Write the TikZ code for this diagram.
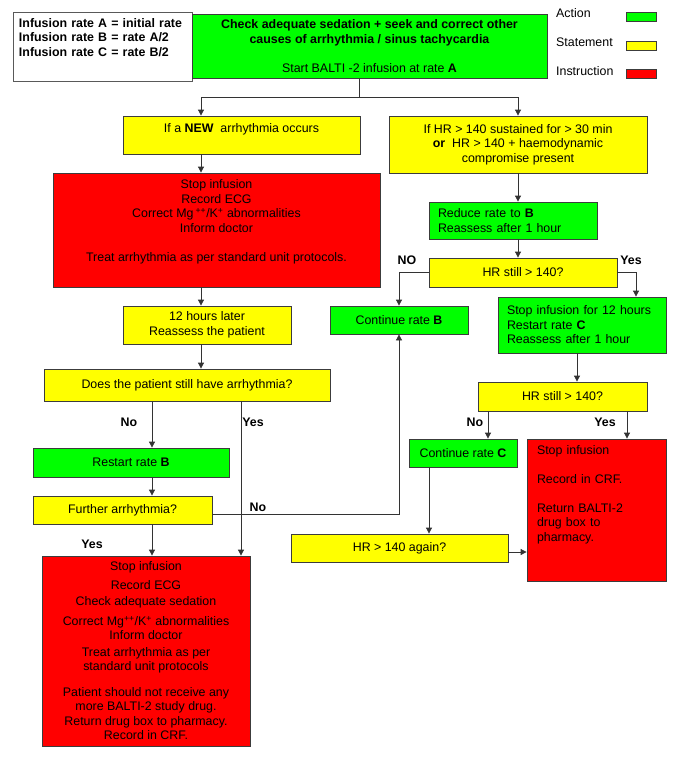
\documentclass[tikz,border=0pt]{standalone}
\usepackage{fontspec}
\setmainfont{Liberation Sans}
\usetikzlibrary{arrows.meta}
\definecolor{actgreen}{RGB}{0,255,0}
\definecolor{stateyellow}{RGB}{255,255,0}
\definecolor{instred}{RGB}{255,0,0}
\definecolor{edgegray}{RGB}{60,60,60}

\begin{document}
\begin{tikzpicture}[x=1pt,y=-1pt,
    font=\fontsize{12.4}{14.5}\selectfont,
    wh/.style 2 args={minimum width=#1, minimum height=#2},
    box/.style={draw=edgegray, line width=0.8pt, inner sep=0pt, align=center},
    actbox/.style={box, fill=actgreen},
    statebox/.style={box, fill=stateyellow},
    instbox/.style={box, fill=instred},
    keylbl/.style={anchor=west, inner sep=0pt},
    lbl/.style={font=\fontsize{12.4}{14.5}\selectfont\bfseries, inner sep=1pt},
    line/.style={draw=black!80, line width=0.8pt},
    arr/.style={line, -{Triangle[length=6pt,width=6pt]}}]
    \useasboundingbox (0,0) rectangle (685,766);

    % Rate key and start box
    \node[box, fill=white, draw=black!65, wh={179}{69}, text width=167, align=left,
      font=\fontsize{12.4}{14.5}\selectfont\bfseries] (key) at (102.5,46.5)
      {Infusion rate A = initial rate\\ Infusion rate B = rate A/2\\ Infusion rate C = rate B/2\\ \strut};
    \node[actbox, wh={355}{64}] (top) at (369.5,46)
      {\textbf{Check adequate sedation + seek and correct other}\\
       \textbf{causes of arrhythmia / sinus tachycardia}\\ \strut\\
       Start BALTI -2 infusion at rate \textbf{A}};

    % Legend
    \node[keylbl] (actlbl) at (556,13) {Action};
    \node[keylbl] (statelbl) at (556,42) {Statement};
    \node[keylbl] (instlbl) at (556,71) {Instruction};
    \node[actbox, wh={30}{9}] (actkey) at (641,16.5) {};
    \node[statebox, wh={30}{9}] (statekey) at (641,45.5) {};
    \node[instbox, wh={30}{9}] (instkey) at (641,73.5) {};

    % Left branch: new arrhythmia
    \node[statebox, wh={237}{38}] (new) at (241.5,135)
      {If a \textbf{NEW}\ \ arrhythmia occurs\\[-5pt] \strut};
    \node[instbox, wh={327}{114}] (stop1) at (216.5,230)
      {Stop infusion\\ Record ECG\\
       Correct Mg\,\textsuperscript{++}/K\textsuperscript{+} abnormalities\\
       Inform doctor\\ \strut\\
       Treat arrhythmia as per standard unit protocols.\\ \strut};
    \node[statebox, wh={168}{38}] (later) at (207,325)
      {12 hours later\\ Reassess the patient};
    \node[statebox, wh={286}{32}] (ask) at (187,385)
      {Does the patient still have arrhythmia?};
    \node[actbox, wh={196}{29}] (restart) at (131,462.5) {Restart rate \textbf{B}};
    \node[statebox, wh={179}{28}] (further) at (122.5,510) {Further arrhythmia?};
    \node[instbox, wh={208}{190}] (stop2) at (146,651)
      {Stop infusion\\[4pt] Record ECG\\[2pt] Check adequate sedation\\[5pt]
       Correct Mg\textsuperscript{++}/K\textsuperscript{+} abnormalities\\
       Inform doctor\\[2pt]
       Treat arrhythmia as per\\ standard unit protocols\\[11pt]
       Patient should not receive any\\ more BALTI-2 study drug.\\
       Return drug box to pharmacy.\\ Record in CRF.};

    % Right branch: sustained HR > 140
    \node[statebox, wh={258}{57}] (hr) at (518,144.5)
      {If HR > 140 sustained for > 30 min\\
       \textbf{or}\ \ HR > 140 + haemodynamic\\ compromise present};
    \node[actbox, wh={168}{37}, text width=150, align=left] (reduce) at (513,220.5)
      {Reduce rate to \textbf{B}\\ Reassess after 1 hour};
    \node[statebox, wh={188}{29}] (still1) at (523,272.5) {HR still > 140?};
    \node[actbox, wh={138}{28}] (contB) at (399,320) {Continue rate \textbf{B}};
    \node[actbox, wh={168}{56}, text width=150, align=left] (stop12) at (582,325)
      {Stop infusion for 12 hours\\ Restart rate \textbf{C}\\ Reassess after 1 hour};
    \node[statebox, wh={169}{29}] (still2) at (562.5,396.5) {HR still > 140?};
    \node[actbox, wh={108}{28}] (contC) at (463,453) {Continue rate \textbf{C}};
    \node[instbox, wh={139}{142}, text width=119, align=left] (stop3) at (596.5,510)
      {Stop infusion\\ \strut\\ Record in CRF.\\ \strut\\
       Return BALTI-2\\ drug box to\\ pharmacy.\\ \strut\\ \strut};
    \node[statebox, wh={217}{28}] (again) at (399.5,548) {HR > 140 again?};

    % Axes for the connectors
    \coordinate (split) at (359,97);
    \coordinate (axL) at (201,0);
    \coordinate (axR) at (518,0);
    \coordinate (axYes) at (636,0);
    \coordinate (axC) at (577,0);
    \coordinate (axCC) at (488,0);
    \coordinate (axYY) at (627,0);
    \coordinate (axCg) at (429,0);
    \coordinate (axM) at (152,0);
    \coordinate (axY2) at (241,0);
    \coordinate (axF) at (0,514);
    \coordinate (axH) at (0,552);

    % Connectors
    \draw[line] (top.south -| split) -- (split);
    \draw[arr] (split) -| (new.north -| axL);
    \draw[arr] (split) -| (hr.north -| axR);
    \draw[arr] (new.south -| axL) -- (stop1.north -| axL);
    \draw[arr] (stop1.south -| axL) -- (later.north -| axL);
    \draw[arr] (later.south -| axL) -- (ask.north -| axL);
    \draw[arr] (ask.south -| axM) -- (restart.north -| axM);
    \draw[arr] (ask.south -| axY2) -- (stop2.north -| axY2);
    \draw[arr] (restart.south -| axM) -- (further.north -| axM);
    \draw[arr] (further.south -| axM) -- (stop2.north -| axM);
    \draw[arr] (further.east |- axF) -| (contB.south);
    \draw[arr] (hr.south -| axR) -- (reduce.north -| axR);
    \draw[arr] (reduce.south -| axR) -- (still1.north -| axR);
    \draw[arr] (still1.west) -| (contB.north);
    \draw[arr] (still1.east) -| (stop12.north -| axYes);
    \draw[arr] (stop12.south -| axC) -- (still2.north -| axC);
    \draw[arr] (still2.south -| axCC) -- (contC.north -| axCC);
    \draw[arr] (still2.south -| axYY) -- (stop3.north -| axYY);
    \draw[arr] (contC.south -| axCg) -- (again.north -| axCg);
    \draw[arr] (again.east |- axH) -- (stop3.west |- axH);

    % Branch labels
    \node[lbl] (noB) at (407,260) {NO};
    \node[lbl] (yesC) at (631,260) {Yes};
    \node[lbl] (noRestart) at (129,422) {No};
    \node[lbl] (yesStop) at (253,422) {Yes};
    \node[lbl] (noFurther) at (258,507) {No};
    \node[lbl] (yesFurther) at (92,544) {Yes};
    \node[lbl] (noC) at (475,422) {No};
    \node[lbl] (yesRed) at (605,422) {Yes};
  \end{tikzpicture}
\end{document}
